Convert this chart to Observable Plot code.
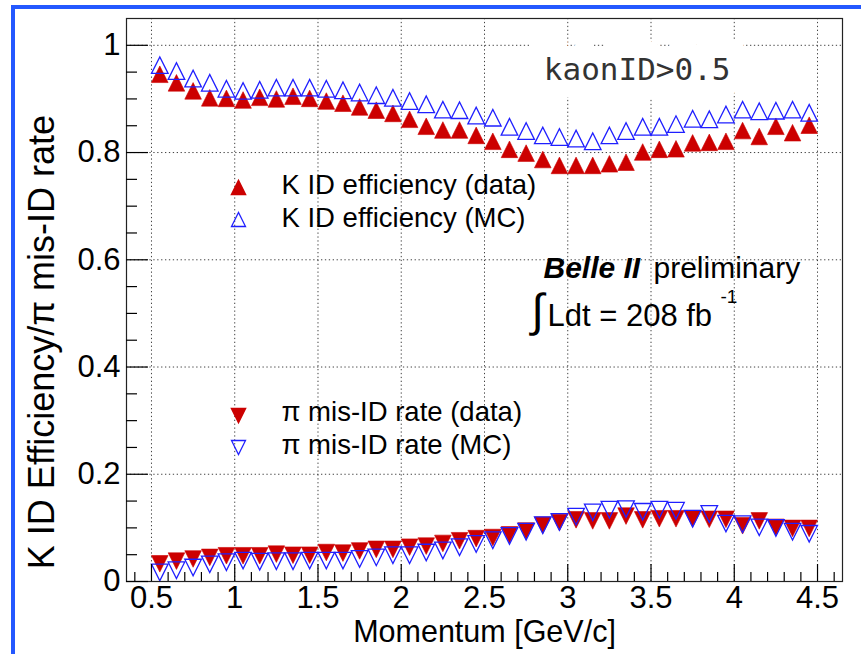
<!DOCTYPE html>
<html>
<head>
<meta charset="utf-8">
<script src="https://cdn.jsdelivr.net/npm/d3@7"></script>
<script src="https://cdn.jsdelivr.net/npm/@observablehq/plot@0.6"></script>
<style>
  body { margin: 0; background: #fff; }
  #wrap { position: relative; width: 861px; height: 654px; overflow: hidden; }
  #border { position: absolute; left: 11px; top: 5px; width: 900px; height: 700px;
            border-left: 4px solid #2458ff; border-top: 4px solid #2458ff; pointer-events: none; }
</style>
</head>
<body>
<div id="wrap"><div id="chart"></div><div id="border"></div></div>
<script>
// ---- data ----
const momentum = [0.55,0.65,0.75,0.85,0.95,1.05,1.15,1.25,1.35,1.45,1.55,1.65,1.75,1.85,1.95,2.05,2.15,2.25,2.35,2.45,
                  2.55,2.65,2.75,2.85,2.95,3.05,3.15,3.25,3.35,3.45,3.55,3.65,3.75,3.85,3.95,4.05,4.15,4.25,4.35,4.45];
const kEffData = [0.946,0.930,0.915,0.902,0.901,0.898,0.903,0.900,0.905,0.901,0.896,0.892,0.885,0.879,0.873,0.862,0.849,0.842,0.842,0.832,
                  0.821,0.806,0.799,0.787,0.776,0.776,0.776,0.779,0.782,0.801,0.806,0.807,0.818,0.819,0.821,0.841,0.830,0.849,0.837,0.851];
const kEffMC   = [0.963,0.952,0.938,0.930,0.919,0.915,0.917,0.921,0.921,0.921,0.919,0.916,0.912,0.907,0.902,0.896,0.890,0.880,0.879,0.869,
                  0.865,0.848,0.840,0.832,0.829,0.826,0.821,0.832,0.840,0.848,0.848,0.853,0.863,0.862,0.871,0.880,0.877,0.878,0.880,0.874];
const piMisData = [0.033,0.038,0.042,0.045,0.048,0.048,0.048,0.051,0.049,0.049,0.054,0.053,0.057,0.060,0.060,0.064,0.066,0.071,0.076,0.080,
                   0.082,0.087,0.094,0.105,0.110,0.115,0.113,0.113,0.122,0.115,0.117,0.117,0.117,0.116,0.116,0.104,0.113,0.101,0.099,0.099];
const piMisMC   = [0.017,0.021,0.026,0.032,0.036,0.039,0.037,0.038,0.038,0.039,0.039,0.039,0.042,0.045,0.049,0.049,0.054,0.058,0.064,0.070,
                   0.077,0.085,0.093,0.105,0.111,0.121,0.129,0.134,0.135,0.130,0.134,0.132,0.117,0.126,0.108,0.107,0.101,0.100,0.093,0.089];

const xTicks = [0.5,1,1.5,2,2.5,3,3.5,4,4.5];
const xTickLabels = ["0.5","1","1.5","2","2.5","3","3.5","4","4.5"];
const yTicks = [0,0.2,0.4,0.6,0.8,1];
const yTickLabels = ["0","0.2","0.4","0.6","0.8","1"];
const xMinorTicks = d3.range(4, 47).map(i => i / 10).filter(v => Math.abs(v * 2 - Math.round(v * 2)) > 1e-6);
const yMinorTicks = d3.range(1, 21).map(i => i / 20).filter(v => Math.abs(v * 5 - Math.round(v * 5)) > 1e-6);

const xTitle = "Momentum [GeV/c]";
const yTitle = "K ID Efficiency/\u03c0 mis-ID rate";
const legendLabels = ["K ID efficiency (data)", "K ID efficiency (MC)", "\u03c0 mis-ID rate (data)", "\u03c0 mis-ID rate (MC)"];
const cutLabel = "kaonID>0.5";

// ---- styles ----
const FONT = "Liberation Sans, Arial, Helvetica, sans-serif";
const RED = "#cc0000", BLUE = "#1f1fff";
const triUp = {draw(c, size) { const r = Math.sqrt(size / Math.PI); c.moveTo(-r, r); c.lineTo(r, r); c.lineTo(0, -r); c.closePath(); }};
const triDown = {draw(c, size) { const r = Math.sqrt(size / Math.PI); c.moveTo(-r, -r); c.lineTo(r, -r); c.lineTo(0, r); c.closePath(); }};

const rows = momentum.map((m, i) => ({m, kd: kEffData[i], km: kEffMC[i], pd: piMisData[i], pm: piMisMC[i]}));

const W = 861, H = 654, ML = 126, MR = 19, MT = 18, MB = 73;
const innerW = W - ML - MR, innerH = H - MT - MB;
const R = 8.3;

const one = [0];
const lbl = (s, o) => Plot.text([s], {text: d => d, frameAnchor: "top-left", textAnchor: "start", lineAnchor: "middle", fill: "#000", ...o});
const chart = Plot.plot({
  width: W, height: H,
  marginLeft: ML, marginRight: MR, marginTop: MT, marginBottom: MB,
  style: {fontFamily: FONT, background: "transparent"},
  x: {domain: [0.35, 4.65], axis: null},
  y: {domain: [0, 1.05], axis: null},
  marks: [
    // grid
    Plot.ruleX(xTicks, {x: d => d, stroke: "#000", strokeOpacity: 0.75, strokeDasharray: "1.3,2.6", strokeWidth: 1}),
    Plot.ruleY(yTicks.slice(1), {y: d => d, stroke: "#000", strokeOpacity: 0.75, strokeDasharray: "1.3,2.6", strokeWidth: 1}),
    // cut label with white box
    Plot.text([cutLabel], {frameAnchor: "top-right", dx: -112, dy: 52, textAnchor: "end", lineAnchor: "middle", text: d => d,
      fontFamily: "DejaVu Sans Mono, monospace", fontSize: 31, fill: "#333", stroke: "white", strokeWidth: 34, strokeLinejoin: "miter"}),
    // data markers
    Plot.dot(rows, {x: "m", y: "kd", symbol: triUp, r: R, fill: RED, stroke: RED, strokeWidth: 0.6}),
    Plot.dot(rows, {x: "m", y: "km", symbol: triUp, r: R, fill: "none", stroke: BLUE, strokeWidth: 1.3}),
    Plot.dot(rows, {x: "m", y: "pd", symbol: triDown, r: R, fill: RED, stroke: RED, strokeWidth: 0.6}),
    Plot.dot(rows, {x: "m", y: "pm", symbol: triDown, r: R, fill: "none", stroke: BLUE, strokeWidth: 1.3}),
    // frame and ticks
    Plot.frame({stroke: "#222", strokeWidth: 1.2}),
    Plot.ruleX(xTicks, {x: d => d, insetTop: innerH - 17, stroke: "#000", strokeWidth: 1.2}),
    Plot.ruleX(xMinorTicks, {x: d => d, insetTop: innerH - 9, stroke: "#000", strokeWidth: 1.2}),
    Plot.ruleY(yTicks, {y: d => d, insetRight: innerW - 22, stroke: "#000", strokeWidth: 1.2}),
    Plot.ruleY(yMinorTicks, {y: d => d, insetRight: innerW - 11, stroke: "#000", strokeWidth: 1.2}),
    // tick labels
    Plot.text(xTicks, {x: d => d, text: (d, i) => xTickLabels[i], frameAnchor: "bottom", textAnchor: "middle", lineAnchor: "middle", dy: 17, fontSize: 31, fill: "#000"}),
    Plot.text(yTicks, {y: d => d, text: (d, i) => yTickLabels[i], frameAnchor: "left", textAnchor: "end", lineAnchor: "middle", dx: -6, fontSize: 31, fill: "#000"}),
    // axis titles
    Plot.text([xTitle], {text: d => d, frameAnchor: "bottom", textAnchor: "middle", lineAnchor: "middle", dy: 51, fontSize: 30.5, fill: "#000"}),
    Plot.text([yTitle], {text: d => d, frameAnchor: "left", textAnchor: "middle", lineAnchor: "middle", rotate: -90, dx: -84, dy: 42, fontSize: 36, fill: "#000"}),
    // legend
    Plot.dot(one, {frameAnchor: "top-left", dx: 112, dy: 169, symbol: triUp, r: 7, fill: RED, stroke: RED}),
    Plot.dot(one, {frameAnchor: "top-left", dx: 112, dy: 201, symbol: triUp, r: 7, fill: "none", stroke: BLUE, strokeWidth: 1.3}),
    Plot.dot(one, {frameAnchor: "top-left", dx: 112, dy: 397, symbol: triDown, r: 7, fill: RED, stroke: RED}),
    Plot.dot(one, {frameAnchor: "top-left", dx: 112, dy: 429, symbol: triDown, r: 7, fill: "none", stroke: BLUE, strokeWidth: 1.3}),
    lbl(legendLabels[0], {dx: 155, dy: 167, fontSize: 27.5}),
    lbl(legendLabels[1], {dx: 155, dy: 200, fontSize: 27.5}),
    lbl(legendLabels[2], {dx: 155, dy: 394, fontSize: 27.5}),
    lbl(legendLabels[3], {dx: 155, dy: 427, fontSize: 27.5}),
    // Belle II annotation
    lbl("Belle II", {dx: 417, dy: 250, fontSize: 30, fontWeight: "bold", fontStyle: "italic"}),
    lbl("preliminary", {dx: 527, dy: 250, fontSize: 30}),
    lbl("\u222b", {dx: 405, dy: 293, fontSize: 46}),
    lbl("Ldt = 208 fb", {dx: 421, dy: 298, fontSize: 31}),
    lbl("-1", {dx: 594, dy: 278, fontSize: 19})
  ]
});
document.getElementById("chart").appendChild(chart);
</script>
</body>
</html>
